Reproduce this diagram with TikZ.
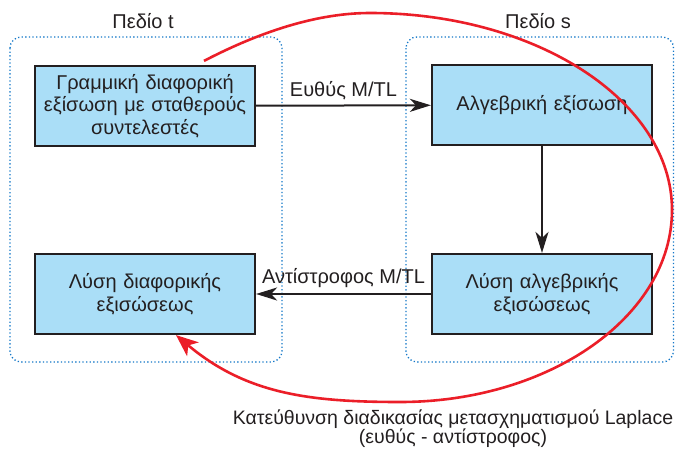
\documentclass[tikz,border=0pt]{standalone}
\usepackage{fontspec}
\setmainfont{Liberation Sans}
\usetikzlibrary{arrows.meta}
\definecolor{boxfill}{RGB}{170,222,247}
\definecolor{boxline}{RGB}{35,31,32}
\definecolor{domblue}{RGB}{20,120,200}
\definecolor{redline}{RGB}{235,30,40}
\definecolor{txt}{RGB}{35,31,32}
\tikzset{
  stepbox/.style={draw=boxline, fill=boxfill, line width=2.2pt, minimum width=220pt, minimum height=80pt,
    text width=216pt, align=center, inner sep=0pt, font=\fontsize{20}{22.5}\selectfont, text=txt},
  dombox/.style={draw=domblue, line width=1.3pt, dash pattern=on 1.3pt off 2.3pt, rounded corners=11pt},
  lbl/.style={font=\fontsize{20}{22}\selectfont, text=txt, inner sep=0pt},
  conn/.style={draw=boxline, line width=2pt, -{Stealth[length=21pt,width=13pt,inset=6pt]}},
  redarrow/.style={draw=redline, line width=2.6pt, -{Stealth[length=22pt,width=18pt,inset=6pt]}}
}
\begin{document}
\begin{tikzpicture}[x=1pt,y=-1pt]
\useasboundingbox (0,0) rectangle (675,455);
\draw[dombox] (10,37) rectangle (282,362);
\draw[dombox] (406,37) rectangle (673.5,362);
\node[lbl] (dt) at (143,21) {Πεδίο t};
\node[lbl] (ds) at (538,21) {Πεδίο s};
\node[stepbox] (b1) at (145,106) {Γραμμική διαφορική\\εξίσωση με σταθερούς\\συντελεστές};
\node[stepbox] (b2) at (542,105) {Αλγεβρική εξίσωση};
\node[stepbox] (b3) at (145,294) {Λύση διαφορικής\\εξισώσεως};
\node[stepbox] (b4) at (542,294) {Λύση αλγεβρικής\\εξισώσεως};
\draw[conn] (b1) -- node[lbl, above=5pt] (l1) {Ευθύς M/TL} (b2);
\draw[conn] (b2) -- (b4);
\draw[conn] (b4) -- node[lbl, above=5pt] (l2) {Αντίστροφος M/TL} (b3);
\coordinate (rs) at ([xshift=59pt,yshift=4pt]b1.north);
\coordinate (re) at ([xshift=31pt]b3.south);
\draw[redarrow] (rs) .. controls (250,37) and (310,13) .. (370,13)
  .. controls (536,13) and (672,101) .. (672,210)
  .. controls (672,316) and (550,402) .. (400,402)
  to[out=180,in=-40] (re);
\node[lbl, align=center, font=\fontsize{19.5}{19}\selectfont] (cap) at (453,429)
  {Κατεύθυνση διαδικασίας μετασχηματισμού Laplace\\(ευθύς - αντίστροφος)};
\end{tikzpicture}
\end{document}
